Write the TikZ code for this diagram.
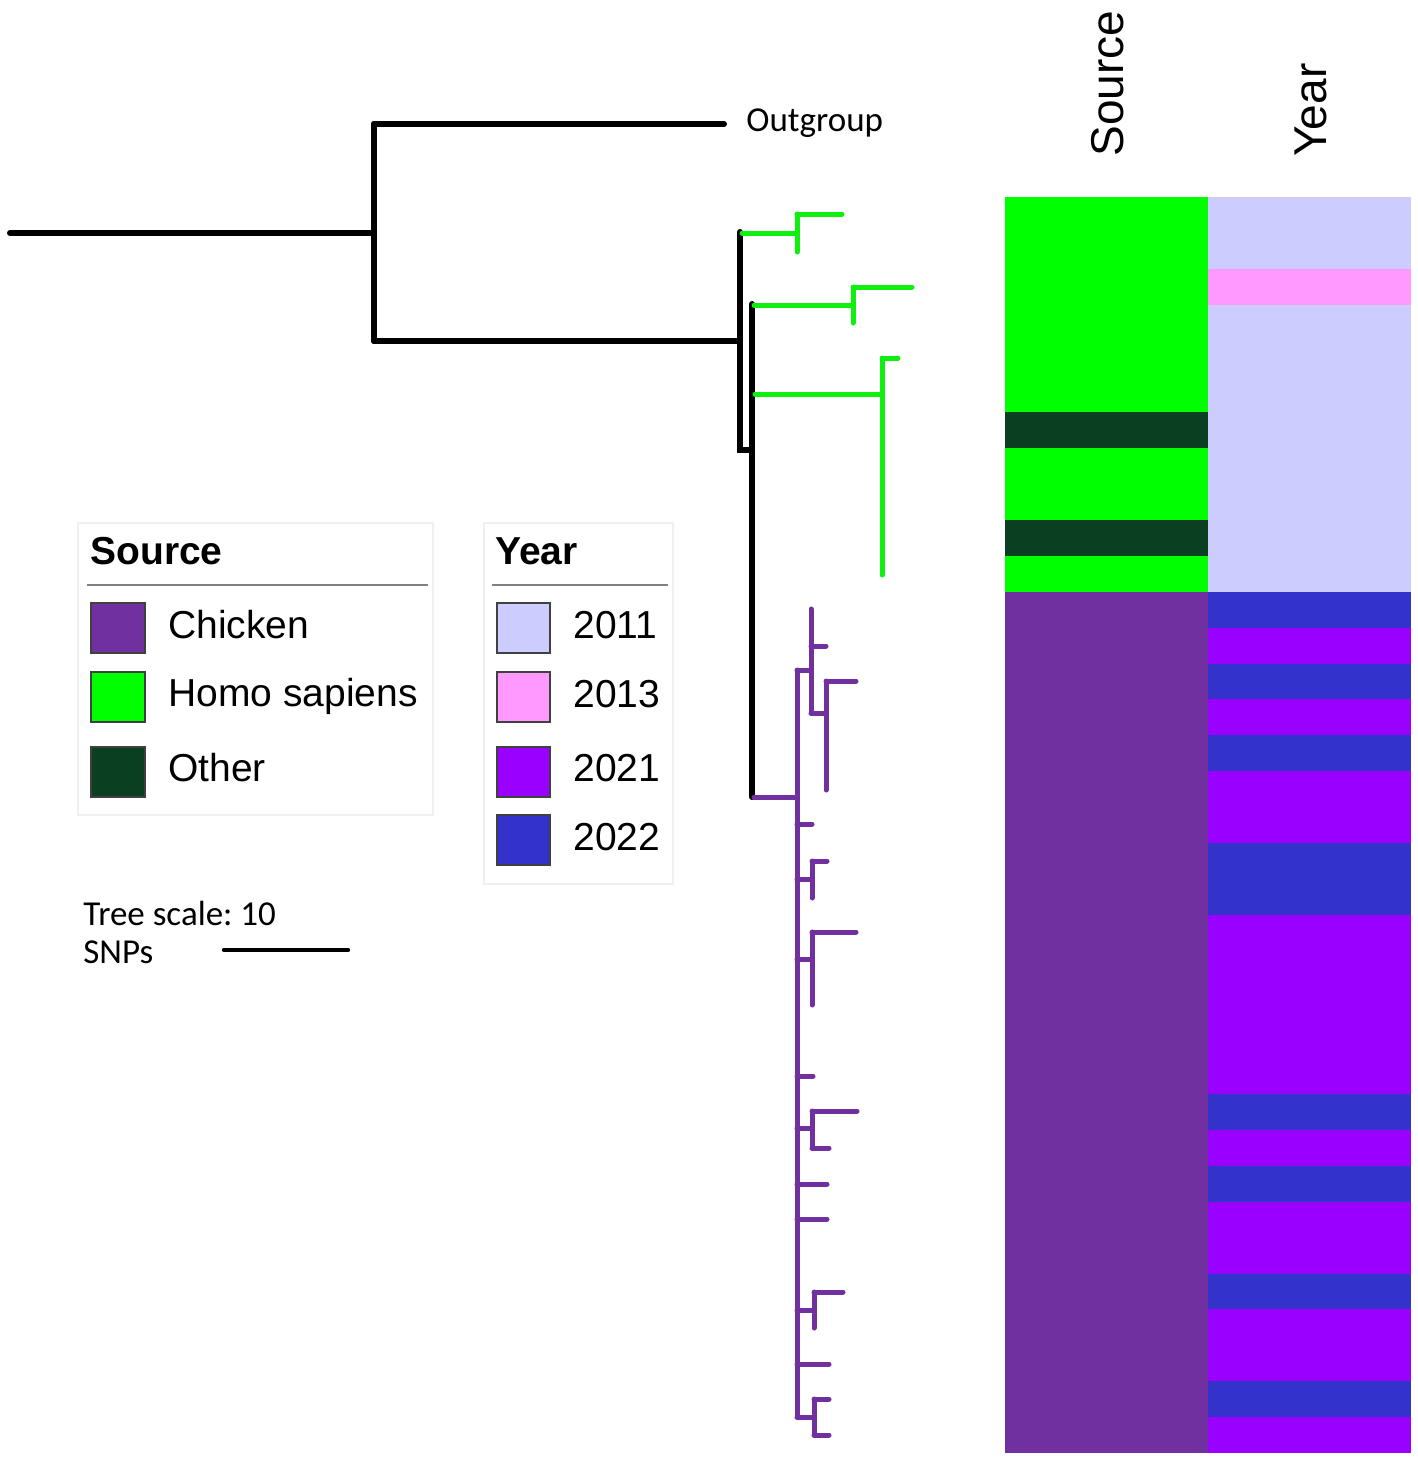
\documentclass[tikz,border=0pt]{standalone}
\usepackage{fontspec}
\setmainfont{Liberation Sans}
\newfontfamily\calibfont{Carlito}
\frenchspacing
\definecolor{hgreen}{HTML}{00FF00}
\definecolor{tgreen}{HTML}{10F010}
\definecolor{hdark}{HTML}{0A3F22}
\definecolor{chick}{HTML}{7030A0}
\definecolor{ylight}{HTML}{CCCCFF}
\definecolor{ypink}{HTML}{FF99FF}
\definecolor{yviolet}{HTML}{9900FF}
\definecolor{yblue}{HTML}{3333CC}
\newcommand{\hmcell}[5]{\fill[#1] (#2,{197+35.886*(#4)}) rectangle (#3,{197+35.886*(#5)});}
\begin{document}
\begin{tikzpicture}[x=0.5pt,y=-0.5pt,
  blk/.style={line width=3pt, black, line cap=round},
  grn/.style={line width=2.5pt, tgreen, line cap=round},
  pur/.style={line width=2.5pt, chick, line cap=round},
  legframe/.style={draw=black!6, line width=0.8pt},
  legrule/.style={draw=black!50, line width=0.8pt},
  swatch/.style={draw=black!75, line width=0.6pt},
  legtitle/.style={anchor=base west, font=\bfseries\fontsize{19.5pt}{22pt}\selectfont, inner sep=0pt},
  leglabel/.style={anchor=base west, font=\fontsize{19.5pt}{22pt}\selectfont, inner sep=0pt},
  colhead/.style={anchor=base west, rotate=90, font=\fontsize{23pt}{26pt}\selectfont, inner sep=0pt},
  smalltxt/.style={anchor=base west, font=\calibfont\fontsize{17.5pt}{20pt}\selectfont, inner sep=0pt}]
\useasboundingbox (0,0) rectangle (1418,1461);
\fill[white] (0,0) rectangle (1418,1461);

% ---- tree: black backbone
\coordinate (root) at (10,233);
\coordinate (n1) at (374,233);
\draw[blk] (root) -- (n1);
\draw[blk] (374,124) -- (374,341);
\draw[blk] (374,124) -- (724,124);
\draw[blk] (374,341) -- (740,341);
\draw[blk] (740,232) -- (740,450) -- (752,450);
\draw[blk] (752,304) -- (752,797);
\node[smalltxt] (outg) at (746,132) {Outgroup};

% ---- green clade
\draw[grn] (742,233) -- (797,233);
\draw[grn] (797,214) -- (797,252);
\draw[grn] (797,214) -- (842,214);
\draw[grn] (754,305) -- (853,305);
\draw[grn] (853,287) -- (853,323);
\draw[grn] (853,287) -- (912,287);
\draw[grn] (755,394) -- (882,394);
\draw[grn] (882,358) -- (882,575);
\draw[grn] (882,358) -- (898,358);

% ---- purple clade
\draw[pur] (754,797) -- (797,797);
\draw[pur] (797,670) -- (797,1417);
\draw[pur] (797,670) -- (811,670);
\draw[pur] (811,609) -- (811,713);
\draw[pur] (811,646) -- (826,646);
\draw[pur] (811,713) -- (826,713);
\draw[pur] (826,681) -- (826,790);
\draw[pur] (826,681) -- (856,681);
\draw[pur] (797,824) -- (812,824);
\draw[pur] (797,879) -- (812,879);
\draw[pur] (812,861) -- (812,898);
\draw[pur] (812,861) -- (827,861);
\draw[pur] (797,959) -- (812,959);
\draw[pur] (812,932) -- (812,1005);
\draw[pur] (812,932) -- (856,932);
\draw[pur] (797,1076) -- (813,1076);
\draw[pur] (797,1128) -- (812,1128);
\draw[pur] (812,1111) -- (812,1148);
\draw[pur] (812,1111) -- (857,1111);
\draw[pur] (812,1148) -- (829,1148);
\draw[pur] (797,1184) -- (827,1184);
\draw[pur] (797,1219) -- (827,1219);
\draw[pur] (797,1310) -- (814,1310);
\draw[pur] (814,1292) -- (814,1328);
\draw[pur] (814,1292) -- (843,1292);
\draw[pur] (797,1364) -- (829,1364);
\draw[pur] (797,1417) -- (814,1417);
\draw[pur] (814,1399) -- (814,1435);
\draw[pur] (814,1399) -- (829,1399);
\draw[pur] (814,1435) -- (829,1435);

% ---- heatmap: Source
\hmcell{hgreen}{1005}{1208}{0}{6}
\hmcell{hdark}{1005}{1208}{6}{7}
\hmcell{hgreen}{1005}{1208}{7}{9}
\hmcell{hdark}{1005}{1208}{9}{10}
\hmcell{hgreen}{1005}{1208}{10}{11}
\hmcell{chick}{1005}{1208}{11}{35}
% ---- heatmap: Year
\hmcell{ylight}{1208}{1411}{0}{11}
\hmcell{ypink}{1208}{1411}{2}{3}
\hmcell{yviolet}{1208}{1411}{11}{35}
\foreach \r in {11,13,15,18,19,25,27,30,33}{\hmcell{yblue}{1208}{1411}{\r}{\r+1}}
\node[colhead] (hsrc) at (1123,157) {Source};
\node[colhead] (hyear) at (1326,157) {Year};

% ---- legend: Source
\draw[legframe] (78,523) rectangle (433,815);
\node[legtitle] (lst) at (90,564) {Source};
\draw[legrule] (87,585) -- (428,585);
\draw[swatch, fill=chick] (91,603) rectangle (145,653);
\draw[swatch, fill=hgreen] (91,672) rectangle (145,722);
\draw[swatch, fill=hdark] (91,747) rectangle (145,797);
\node[leglabel] (lchick) at (168,638) {Chicken};
\node[leglabel] (lhomo) at (168,706) {Homo sapiens};
\node[leglabel] (lother) at (168,781) {Other};

% ---- legend: Year
\draw[legframe] (484,523) rectangle (673,884);
\node[legtitle] (lyt) at (495,564) {Year};
\draw[legrule] (492,585) -- (668,585);
\draw[swatch, fill=ylight] (497,603) rectangle (550,653);
\draw[swatch, fill=ypink] (497,672) rectangle (550,722);
\draw[swatch, fill=yviolet] (497,747) rectangle (550,797);
\draw[swatch, fill=yblue] (497,815) rectangle (550,865);
\node[leglabel] (l2011) at (573,638) {2011};
\node[leglabel] (l2013) at (573,707) {2013};
\node[leglabel] (l2021) at (573,781) {2021};
\node[leglabel] (l2022) at (573,850) {2022};

% ---- tree scale
\node[smalltxt] (ts1) at (83,925) {Tree scale: 10};
\node[smalltxt] (ts2) at (83,963) {SNPs};
\coordinate (sb1) at (224,950);
\coordinate (sb2) at (348,950);
\draw[line width=2.2pt, line cap=round] (sb1) -- (sb2);
\end{tikzpicture}
\end{document}
